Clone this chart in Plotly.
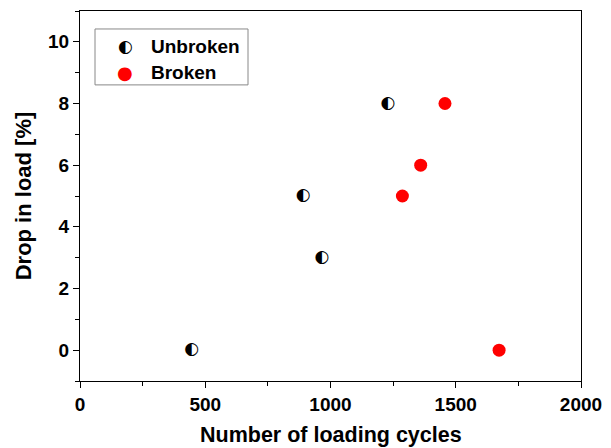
import plotly.graph_objects as go

unbroken_cycles = [446, 891, 966, 1229]
unbroken_drop = [0, 5, 3, 8]
broken_cycles = [1287, 1360, 1457, 1673]
broken_drop = [5, 6, 8, 0]
x_ticks = [0, 500, 1000, 1500, 2000]
y_ticks = [0, 2, 4, 6, 8, 10]

FONT = "Liberation Sans"
PLOT_H = 370.5
PLOT_W = 501

fig = go.Figure()
fig.add_trace(go.Scatter(
    x=unbroken_cycles, y=unbroken_drop, mode="text", text=["◐"] * len(unbroken_cycles),
    textfont=dict(family="DejaVu Sans", size=17, color="black"),
    textposition="middle center", name="Unbroken", showlegend=False))
fig.add_trace(go.Scatter(
    x=broken_cycles, y=broken_drop, mode="markers",
    marker=dict(symbol="circle", size=13, color="#ff0000", line=dict(width=0)),
    name="Broken", showlegend=False))

# legend box
fig.add_shape(type="rect", xref="paper", yref="paper",
              x0=(95 - 80) / PLOT_W, x1=(248 - 80) / PLOT_W,
              y0=(381.5 - 85) / PLOT_H, y1=(381.5 - 29) / PLOT_H,
              line=dict(color="#888888", width=1), fillcolor="white")
fig.add_annotation(xref="paper", yref="paper", x=(125 - 80) / PLOT_W, y=(381.5 - 46.5) / PLOT_H,
                   text="◐", showarrow=False, font=dict(family="DejaVu Sans", size=17, color="black"),
                   xanchor="center", yanchor="middle")
fig.add_annotation(xref="paper", yref="paper", x=(125 - 80) / PLOT_W, y=(381.5 - 72.5) / PLOT_H,
                   text="●", showarrow=False, font=dict(family="DejaVu Sans", size=18, color="#ff0000"),
                   xanchor="center", yanchor="middle")
fig.add_annotation(xref="paper", yref="paper", x=(149 - 80) / PLOT_W, y=(381.5 - 46.5) / PLOT_H,
                   text="<b>Unbroken</b>", showarrow=False, font=dict(family=FONT, size=19, color="black"),
                   xanchor="left", yanchor="middle")
fig.add_annotation(xref="paper", yref="paper", x=(149 - 80) / PLOT_W, y=(381.5 - 72.5) / PLOT_H,
                   text="<b>Broken</b>", showarrow=False, font=dict(family=FONT, size=19, color="black"),
                   xanchor="left", yanchor="middle")
# x-axis title
fig.add_annotation(xref="paper", yref="paper", x=0.5, y=(381.5 - 436) / PLOT_H,
                   text="<b>Number of loading cycles</b>", showarrow=False,
                   font=dict(family=FONT, size=21.5, color="black"),
                   xanchor="center", yanchor="middle")

axis_common = dict(showline=True, linecolor="black", linewidth=1.3, mirror=True,
                   ticks="outside", ticklen=6, tickwidth=1.3, tickcolor="black",
                   showgrid=False, zeroline=False, automargin=False,
                   tickfont=dict(family=FONT, size=19, color="black"))

fig.update_xaxes(range=[0, 2000], tickvals=x_ticks, ticktext=[f"<b>{v}</b>" for v in x_ticks],
                 minor=dict(dtick=250, ticklen=4, tickwidth=1.3, tickcolor="black", ticks="outside", showgrid=False),
                 **axis_common)
fig.update_yaxes(range=[-1, 11], tickvals=y_ticks, ticktext=[f"<b>{v}</b>" for v in y_ticks],
                 minor=dict(dtick=1, ticklen=4, tickwidth=1.3, tickcolor="black", ticks="outside", showgrid=False),
                 title=dict(text="<b>Drop in load [%]</b>", font=dict(family=FONT, size=22, color="black"), standoff=10),
                 **axis_common)

fig.update_layout(width=611, height=448, margin=dict(l=80, r=30, t=11, b=66.5),
                  plot_bgcolor="white", paper_bgcolor="white", showlegend=False)

fig.write_html("out.html")
